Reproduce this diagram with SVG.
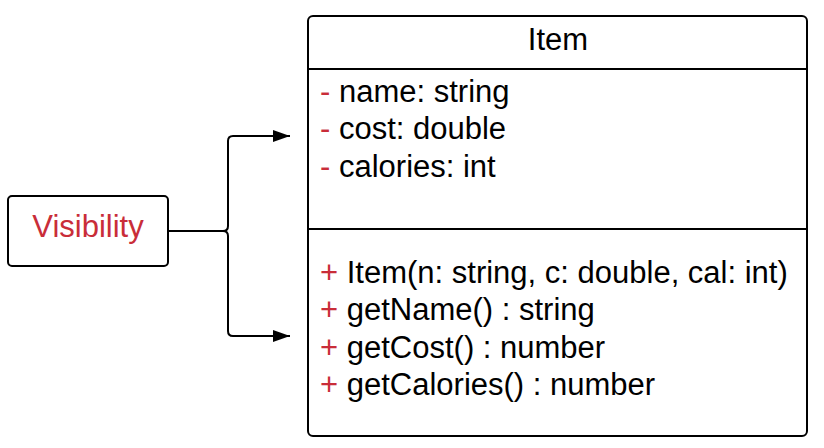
<svg xmlns="http://www.w3.org/2000/svg" width="824" height="448" viewBox="0 0 824 448">
<style>
text{font-family:"Liberation Sans",Arial,sans-serif;font-size:31px;fill:#000}
.red{fill:#c92d39}
.box{fill:#fff;stroke:#000;stroke-width:2}
.line{stroke:#000;stroke-width:2;fill:none}
.conn{stroke:#000;stroke-width:2;fill:none;stroke-linejoin:round}
</style>
<defs>
<marker id="ah" markerWidth="17" markerHeight="12" refX="17" refY="6" orient="auto" markerUnits="userSpaceOnUse">
<path d="M0,0 L17,6 L0,12 Z" fill="#000"/>
</marker>
</defs>
<rect width="824" height="448" fill="#fff"/>
<g id="connectors">
<path class="conn" d="M168,231 H223 Q228,231 228,226 V141 Q228,136 233,136 H290" marker-end="url(#ah)"/>
<path class="conn" d="M223,231 Q228,231 228,236 V331 Q228,336 233,336 H290" marker-end="url(#ah)"/>
</g>
<g id="visibility">
<rect class="box" x="8" y="196" width="160" height="70" rx="4" ry="4"/>
<text class="red" x="88" y="237" text-anchor="middle">Visibility</text>
</g>
<g id="item">
<rect class="box" x="308" y="16" width="499" height="420" rx="5" ry="5"/>
<line class="line" x1="308" y1="69" x2="807" y2="69"/>
<line class="line" x1="308" y1="229" x2="807" y2="229"/>
<text x="558" y="49.5" text-anchor="middle">Item</text>
<text x="320" y="101.5"><tspan class="red">-</tspan> name: string</text>
<text x="320" y="139"><tspan class="red">-</tspan> cost: double</text>
<text x="320" y="176.5"><tspan class="red">-</tspan> calories: int</text>
<text x="320" y="283"><tspan class="red">+</tspan> Item(n: string, c: double, cal: int)</text>
<text x="320" y="320"><tspan class="red">+</tspan> getName() : string</text>
<text x="320" y="357.5"><tspan class="red">+</tspan> getCost() : number</text>
<text x="320" y="395"><tspan class="red">+</tspan> getCalories() : number</text>
</g>
</svg>
